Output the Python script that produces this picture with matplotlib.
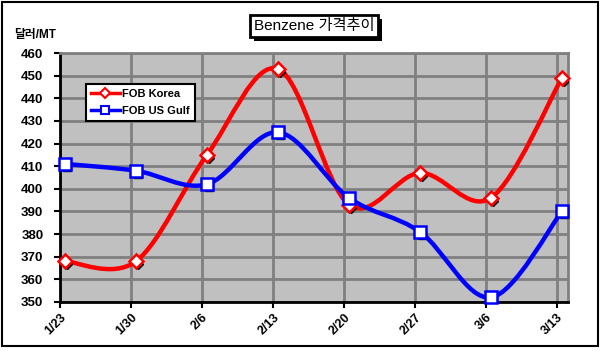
import numpy as np
import matplotlib
matplotlib.use('Agg')
import matplotlib.pyplot as plt
from matplotlib.path import Path
from matplotlib.patches import PathPatch, Rectangle
from matplotlib.lines import Line2D
import matplotlib.patheffects as pe
import matplotlib.transforms as mtransforms

plt.rcParams['font.family'] = ['Liberation Sans', 'Noto Sans CJK KR', 'DejaVu Sans']

# data
dates = ['1/23', '1/30', '2/6', '2/13', '2/20', '2/27', '3/6', '3/13']
fob_korea = [368, 368, 415, 453, 393, 407, 396, 449]
fob_usgulf = [411, 408, 402, 425, 396, 381, 352, 390]

TITLE = 'Benzene 가격추이'
YLABEL = '달러/MT'


def smooth_path(xs, ys):
    # Excel-like smoothed line (Catmull-Rom as cubic Bezier)
    pts = np.column_stack([xs, ys]).astype(float)
    n = len(pts)
    verts = [pts[0]]
    codes = [Path.MOVETO]
    for i in range(n - 1):
        p0 = pts[i - 1] if i > 0 else pts[i]
        p1 = pts[i]
        p2 = pts[i + 1]
        p3 = pts[i + 2] if i + 2 < n else pts[i + 1]
        verts += [p1 + (p2 - p0) / 6.0, p2 - (p3 - p1) / 6.0, p2]
        codes += [Path.CURVE4] * 3
    return Path(verts, codes)


fig = plt.figure(figsize=(6.03, 3.51), dpi=100)
ax = fig.add_axes([60 / 603, 49 / 351, 508 / 603, 249 / 351])
ax.set_facecolor('#c0c0c0')

x = np.arange(len(dates))
ax.set_xlim(-0.07, 7.085)
ax.set_ylim(350, 460)
ax.set_yticks(np.arange(350, 461, 10))
ax.set_xticks(x - 0.07)
ax.set_xticklabels(dates, rotation=45, ha='right', rotation_mode='anchor',
                   fontsize=9, fontweight='bold')
for lab in ax.get_yticklabels():
    lab.set_fontsize(9.5)
    lab.set_fontweight('bold')
ax.tick_params(axis='both', direction='out', length=4, width=1.5, color='black', pad=3)
ax.tick_params(axis='y', pad=8)
ax.grid(True, color='#808080', linewidth=2)
ax.set_axisbelow(True)

for s in ['left', 'bottom']:
    ax.spines[s].set_color('black')
    ax.spines[s].set_linewidth(2)
for s in ['top', 'right']:
    ax.spines[s].set_color('#808080')
    ax.spines[s].set_linewidth(2)

series = [
    (fob_korea, 'red', 'D', 7, 'FOB Korea'),
    (fob_usgulf, 'blue', 's', 8, 'FOB US Gulf'),
]
shadow_tr = ax.transData + mtransforms.ScaledTranslation(2 / 100, -3 / 100, fig.dpi_scale_trans)
handles = []
for vals, col, mk, ms, name in series:
    path = smooth_path(x, vals)
    ax.add_patch(PathPatch(path, facecolor='none', edgecolor=col, linewidth=3.2,
                           capstyle='round', joinstyle='round', zorder=3))
    ax.plot(x, vals, linestyle='none', marker=mk, markersize=ms - 2, color='black',
            transform=shadow_tr, zorder=3.5)
    ax.plot(x, vals, linestyle='none', marker=mk, markersize=ms, markerfacecolor='white',
            markeredgecolor=col, markeredgewidth=1.8, zorder=4, clip_on=False)
    handles.append(Line2D([], [], color=col, linewidth=2.5, marker=mk, markersize=ms - 2,
                          markerfacecolor='white', markeredgecolor=col, markeredgewidth=1.5,
                          label=name))

leg = fig.legend(handles=handles, loc='upper left', bbox_to_anchor=(86 / 603, 1 - 84 / 351),
                 fontsize=8, frameon=True, fancybox=False, edgecolor='black',
                 framealpha=1, handlelength=2.6, handletextpad=0.2, borderpad=0.45,
                 labelspacing=0.6, borderaxespad=0)
leg.get_frame().set_linewidth(1.5)
for txt in leg.get_texts():
    txt.set_fontweight('bold')

t = fig.text(314 / 603, 1 - 26 / 351, TITLE, fontsize=11, ha='center', va='center',
             bbox=dict(boxstyle='square,pad=0.25', facecolor='white', edgecolor='black',
                       linewidth=2))
t.get_bbox_patch().set_path_effects([
    pe.SimplePatchShadow(offset=(3, -3), shadow_rgbFace='black', alpha=1), pe.Normal()])

fig.text(14 / 603, 1 - 35 / 351, YLABEL, fontsize=8.5, fontweight='bold', va='center', ha='left')

fig.patches.append(Rectangle((2 / 603, 5 / 351), 596 / 603, 344 / 351, transform=fig.transFigure,
                             fill=False, edgecolor='black', linewidth=1.5))

fig.savefig('out.png', dpi=100)
